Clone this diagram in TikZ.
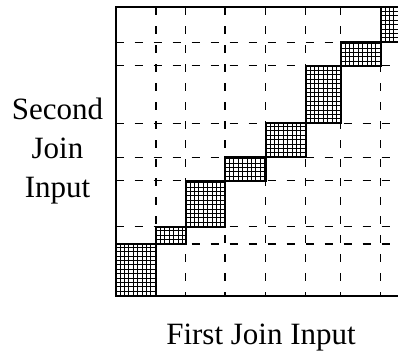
\documentclass[tikz,border=0pt]{standalone}
\usepackage{fontspec}
\setmainfont{Liberation Serif}
\begin{document}
\begin{tikzpicture}[x=1pt, y=1pt,
  frameline/.style={line width=1.8pt},
  dashline/.style={line width=1.1pt, dash pattern=on 8pt off 11pt},
  blockbox/.style={line width=1.9pt},
  hatchline/.style={line width=1pt},
  axislabel/.style={font=\fontsize{31}{39}\selectfont, align=center, inner sep=0pt}]

\useasboundingbox (0,0) rectangle (398,352);

%% dashed partition lines
\foreach \x in {156,185.7,225,265.7,305.7,340.7,380.7}
	\draw[dashline] (\x,344.7) -- (\x,56.3);
\foreach \y in {108,125.3,171.3,194.7,228.7,286.3,309.7}
	\draw[dashline] (115.7,\y) -- (420,\y);

%% hatched blocks on the diagonal
\foreach \xa/\ya/\xb/\yb in {115.7/56.3/156/108, 156/108/185.7/125.3, 185.7/125.3/225/171.3, 225/171.3/265.7/194.7, 265.7/194.7/305.7/228.7, 305.7/228.7/340.7/286.3, 340.7/286.3/380.7/309.7, 380.7/309.7/420/344.7}
{
	\pgfmathsetmacro{\bw}{\xb-\xa}
	\pgfmathsetmacro{\bh}{\yb-\ya}
	\begin{scope}[shift={(\xa,\ya)}]
		\fill[white] (0,0) rectangle (\bw,\bh);
		\draw[hatchline, step=4.4pt] (0,0) grid (\bw,\bh);
		\draw[blockbox] (0,0) rectangle (\bw,\bh);
	\end{scope}
}

%% frame: top, left and bottom edges
\draw[frameline] (420,344.7) -- (115.7,344.7) -- (115.7,56.3) -- (420,56.3);

\node[axislabel] (second) at (57.5,201.4) {Second\\Join\\Input};
\node[axislabel, anchor=base] (first) at (261,7) {First Join Input};

\end{tikzpicture}
\end{document}
